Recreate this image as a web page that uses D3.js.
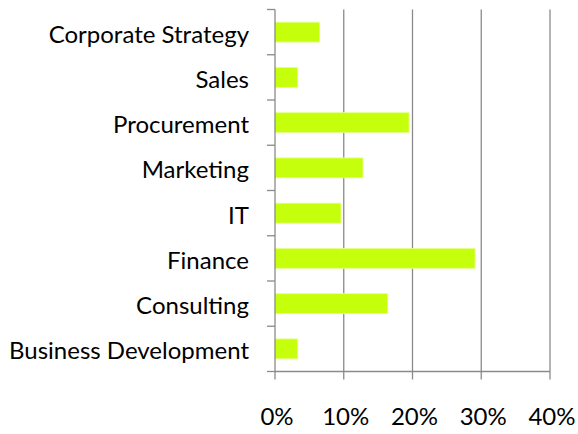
<!DOCTYPE html>
<meta charset="utf-8">
<script src="https://d3js.org/d3.v7.min.js"></script>
<style>
  body { margin: 0; background: #fff; }
  text { font-family: Lato, "Open Sans", sans-serif; fill: #000; }
</style>
<body>
<div id="my_dataviz"></div>
<script>

// data, top to bottom
var categories = ["Corporate Strategy", "Sales", "Procurement", "Marketing", "IT", "Finance", "Consulting", "Business Development"];
var shares = [0.065, 0.033, 0.195, 0.128, 0.096, 0.291, 0.164, 0.033];
var tickValues = [0, 0.1, 0.2, 0.3, 0.4];

var margin = {top: 9.5, right: 28, bottom: 62.5, left: 275},
    width = 578 - margin.left - margin.right,
    height = 434 - margin.top - margin.bottom;

var svg = d3.select("#my_dataviz")
  .append("svg")
    .attr("width", 578)
    .attr("height", 434)
  .append("g")
    .attr("transform", "translate(" + margin.left + "," + margin.top + ")");

var x = d3.scaleLinear()
  .domain([0, 0.4])
  .range([0, width]);

var y = d3.scaleBand()
  .domain(categories)
  .range([0, height])
  .paddingInner(0.56)
  .paddingOuter(0.28);

var gridColor = "#8a8a8a";

// vertical gridlines
svg.append("g")
  .selectAll("line")
  .data(tickValues.slice(1))
  .enter()
  .append("line")
    .attr("x1", function(d) { return x(d); })
    .attr("x2", function(d) { return x(d); })
    .attr("y1", 0)
    .attr("y2", height)
    .attr("stroke", gridColor)
    .attr("stroke-width", 1.3);

// bars
svg.selectAll("mybar")
  .data(categories)
  .enter()
  .append("rect")
    .attr("x", x(0))
    .attr("y", function(d) { return y(d); })
    .attr("width", function(d, i) { return x(shares[i]) - x(0); })
    .attr("height", y.bandwidth())
    .attr("fill", "#c6ff0c")
    .attr("stroke", "#e4ff90")
    .attr("stroke-width", 0.8);

// Y axis with ticks between categories
var step = height / categories.length;
var yAxis = svg.append("g");
yAxis.append("line")
  .attr("x1", 0).attr("x2", 0)
  .attr("y1", 0).attr("y2", height)
  .attr("stroke", gridColor).attr("stroke-width", 1.3);
yAxis.selectAll("line.tick")
  .data(d3.range(categories.length + 1))
  .enter()
  .append("line")
    .attr("class", "tick")
    .attr("x1", -8).attr("x2", 0)
    .attr("y1", function(d) { return d * step; })
    .attr("y2", function(d) { return d * step; })
    .attr("stroke", gridColor).attr("stroke-width", 1.3);
yAxis.selectAll("text")
  .data(categories)
  .enter()
  .append("text")
    .attr("x", -26)
    .attr("y", function(d) { return y(d) + y.bandwidth() / 2; })
    .attr("dy", "0.44em")
    .style("text-anchor", "end")
    .style("font-size", "24px")
    .text(function(d) { return d; });

// X axis
var xAxis = svg.append("g").attr("transform", "translate(0," + height + ")");
xAxis.append("line")
  .attr("x1", 0).attr("x2", width)
  .attr("y1", 0).attr("y2", 0)
  .attr("stroke", gridColor).attr("stroke-width", 1.3);
xAxis.selectAll("line.tick")
  .data(tickValues)
  .enter()
  .append("line")
    .attr("class", "tick")
    .attr("x1", function(d) { return x(d); })
    .attr("x2", function(d) { return x(d); })
    .attr("y1", 0).attr("y2", 8)
    .attr("stroke", gridColor).attr("stroke-width", 1.3);
xAxis.selectAll("text")
  .data(tickValues)
  .enter()
  .append("text")
    .attr("x", function(d) { return x(d) + 2; })
    .attr("y", 53.5)
    .style("text-anchor", "middle")
    .style("font-size", "24px")
    .text(function(d) { return d3.format(".0%")(d); });

</script>
</body>
